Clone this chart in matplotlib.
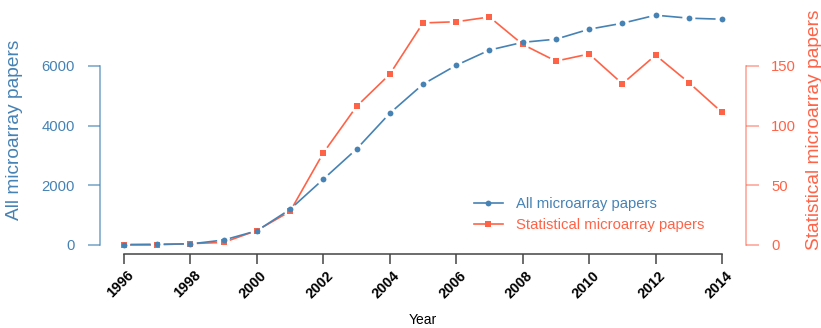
import numpy as np
import matplotlib
matplotlib.use("Agg")
import matplotlib.pyplot as plt
from matplotlib.lines import Line2D
from matplotlib.transforms import ScaledTranslation

plt.rcParams['font.family'] = ['Liberation Sans', 'DejaVu Sans']

years = list(range(1996, 2015))
all_papers = [10, 20, 30, 160, 470, 1190, 2200, 3210, 4410, 5385, 6020, 6530,
              6790, 6895, 7230, 7430, 7700, 7600, 7565]
stat_papers = [0, 0, 1, 2, 12, 28, 77, 116, 143, 186, 187, 191,
               168, 154, 160, 135, 159, 136, 111]

blue = "#4682B4"
red = "#FF6347"

fig = plt.figure(figsize=(8.21, 3.28), dpi=100)
W, H = 821, 328
ax = fig.add_axes([100 / W, 1 - 254 / H, 646 / W, 248 / H])
ax2 = ax.twinx()
ax.set_zorder(ax2.get_zorder() + 1)
ax.patch.set_visible(False)

ext = 0.04 * (years[-1] - years[0])
ax.set_xlim(years[0] - ext, years[-1] + ext)
ymax = max(all_papers)
ax.set_ylim(-0.04 * ymax, 1.04 * ymax)
ax2.set_ylim(-0.04 * ymax / 40, 1.04 * ymax / 40)


# R-style type="b": line segments stop short of each point
def gapped(axis, xs, ys, color, marker, ms, gap=6.5):
    pts = axis.transData.transform(np.column_stack([xs, ys]))
    inv = axis.transData.inverted()
    for p, q in zip(pts[:-1], pts[1:]):
        d = q - p
        L = np.hypot(*d)
        if L <= 2 * gap:
            continue
        u = d / L
        a = inv.transform(p + u * gap)
        b = inv.transform(q - u * gap)
        axis.plot([a[0], b[0]], [a[1], b[1]], color=color, lw=1.2,
                  solid_capstyle='butt')
    axis.plot(xs, ys, ls='none', marker=marker, color=color, ms=ms, mew=0)


gapped(ax2, years, stat_papers, red, 's', 4.0)
gapped(ax, years, all_papers, blue, 'o', 4.2)

for s in ['top', 'right']:
    ax.spines[s].set_visible(False)
for s in ['top', 'left', 'bottom']:
    ax2.spines[s].set_visible(False)

ax.spines['bottom'].set_bounds(1996, 2014)
ax.spines['bottom'].set_color('#444444')
ax.spines['bottom'].set_linewidth(1.1)
ax.spines['left'].set_bounds(0, 6000)
ax.spines['left'].set_color(blue)
ax.spines['left'].set_alpha(0.75)
ax.spines['left'].set_linewidth(1.1)
ax2.spines['right'].set_bounds(0, 150)
ax2.spines['right'].set_color(red)
ax2.spines['right'].set_alpha(0.6)
ax2.spines['right'].set_linewidth(1.1)

ax.set_xticks(range(1996, 2015, 2))
ax.tick_params(axis='x', length=7.5, width=1.1, color='#444444', pad=2)
ax.set_xticklabels([str(y) for y in range(1996, 2015, 2)], rotation=45,
                   ha='right', va='top', rotation_mode='anchor',
                   fontsize=10.3, fontweight='bold', color='black')
off = ScaledTranslation(3 / 100, -1 / 100, fig.dpi_scale_trans)
for lab in ax.get_xticklabels():
    lab.set_transform(lab.get_transform() + off)

ax.set_yticks([0, 2000, 4000, 6000])
ax.tick_params(axis='y', length=9, width=1.1, color=(0.27, 0.51, 0.71, 0.75),
               labelcolor=blue, labelsize=10.7, pad=9)
ax2.set_yticks([0, 50, 100, 150])
ax2.tick_params(axis='y', length=9, width=1.1, color=(1.0, 0.39, 0.28, 0.6),
                labelcolor=red, labelsize=10.7, pad=9)

fig.text(15 / W, 1 - 130 / H, "All microarray papers", rotation=90,
         ha='center', va='center', color=blue, fontsize=13.8)
fig.text(814 / W, 1 - 130 / H, "Statistical microarray papers", rotation=90,
         ha='center', va='center', color=red, fontsize=13.8)
fig.text(423 / W, 1 - 320 / H, "Year", ha='center', va='center',
         color='black', fontsize=10)

handles = [Line2D([], [], color=blue, lw=1.2, marker='o', ms=4.2, mew=0),
           Line2D([], [], color=red, lw=1.2, marker='s', ms=4.0, mew=0)]
leg = ax.legend(handles, ["All microarray papers", "Statistical microarray papers"],
                loc='upper left', bbox_to_anchor=(474 / W, 1 - 197 / H),
                bbox_transform=fig.transFigure, frameon=False, fontsize=10.7,
                handlelength=1.95, handletextpad=0.9, labelspacing=0.5,
                borderpad=0, borderaxespad=0)
for txt, c in zip(leg.get_texts(), [blue, red]):
    txt.set_color(c)

fig.savefig("out.png", dpi=100)
